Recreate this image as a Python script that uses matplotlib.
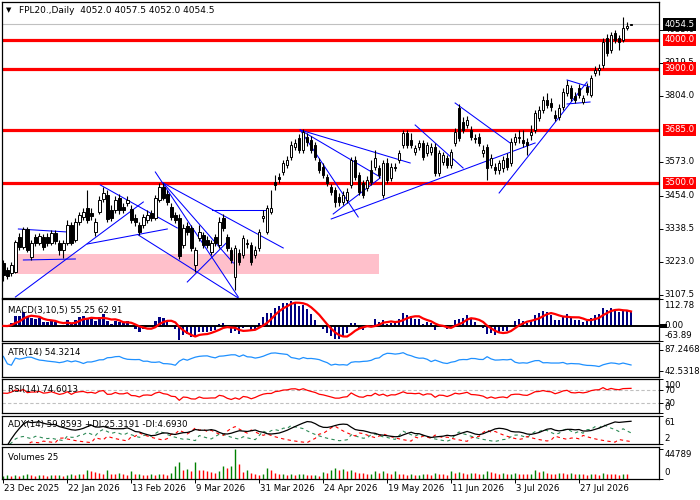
import matplotlib
matplotlib.use('Agg')
import matplotlib.pyplot as plt
import numpy as np
import pandas as pd

# ---------------- data ----------------
opens = [3219.5, 3195, 3184.5, 3188, 3310.5, 3275.5, 3338.5, 3240.5, 3310.5, 3289.5,
         3310.5, 3310.5, 3289.5, 3324.5, 3289.5, 3265, 3289.5, 3352.5, 3300, 3363,
         3380.5, 3412, 3394.5, 3328, 3398, 3443.5, 3457.5, 3405, 3405, 3447,
         3415.5, 3429.5, 3408.5, 3377, 3352.5, 3352.5, 3370, 3394.5, 3377, 3440,
         3485.5, 3461, 3415.5, 3387.5, 3377, 3282.5, 3349, 3342, 3212.5, 3307,
         3317.5, 3300, 3258, 3310.5, 3282.5, 3377, 3310.5, 3265, 3170.5, 3254.5,
         3247.5, 3289.5, 3282.5, 3247.5, 3272, 3377, 3328, 3398, 3503, 3520.5,
         3538, 3562.5, 3590.5, 3625.5, 3657, 3615, 3660.5, 3650, 3632.5, 3573,
         3555.5, 3520.5, 3485.5, 3475, 3450.5, 3433, 3440, 3492.5, 3580, 3527.5,
         3499.5, 3482, 3545, 3555.5, 3552, 3457.5, 3569.5, 3517, 3555.5, 3580,
         3632.5, 3674.5, 3650, 3608, 3625.5, 3639.5, 3604.5, 3608, 3625.5, 3534.5,
         3573, 3587, 3562.5, 3639.5, 3762, 3713, 3702.5, 3685, 3657, 3660.5,
         3604.5, 3625.5, 3562.5, 3555.5, 3545, 3552, 3587, 3569.5, 3643, 3657,
         3650, 3643, 3667.5, 3685, 3727, 3755, 3790, 3779.5, 3737.5, 3730.5,
         3765.5, 3814.5, 3832, 3804, 3832, 3783, 3835.5, 3807.5, 3884.5, 3895,
         3912.5, 4007, 3965, 4024.5, 4007, 4000, 4042, 4052.0]
highs = [3230, 3205.5, 3223, 3300, 3324.5, 3345.5, 3345.5, 3300, 3321, 3324.5,
         3321, 3324.5, 3335, 3335, 3300, 3300, 3370, 3363, 3377, 3398,
         3412, 3475, 3412, 3377, 3454, 3485.5, 3475, 3422.5, 3454, 3461,
         3429.5, 3454, 3422.5, 3391, 3363, 3391, 3405, 3405, 3457.5, 3499.5,
         3499.5, 3475, 3429.5, 3398, 3391, 3356, 3363, 3352.5, 3275.5, 3352.5,
         3328, 3314, 3300, 3321, 3380.5, 3391, 3321, 3275.5, 3282.5, 3268.5,
         3317.5, 3303.5, 3293, 3279, 3338.5, 3405, 3422.5, 3475, 3527.5, 3534.5,
         3580, 3594, 3646.5, 3653.5, 3671, 3688.5, 3674.5, 3664, 3643, 3587,
         3569.5, 3531, 3496, 3485.5, 3464.5, 3471.5, 3482, 3590.5, 3594, 3538,
         3510, 3524, 3580, 3615, 3562.5, 3580, 3587, 3569.5, 3569.5, 3615,
         3685, 3685, 3674.5, 3632.5, 3650, 3650, 3643, 3639.5, 3639.5, 3615,
         3608, 3597.5, 3618.5, 3692, 3776, 3730.5, 3734, 3699, 3671, 3674.5,
         3632.5, 3636, 3601, 3569.5, 3580, 3594, 3604.5, 3657, 3674.5, 3685,
         3685, 3657, 3702.5, 3755, 3769, 3804, 3814.5, 3797, 3755, 3776,
         3832, 3860, 3842.5, 3818, 3846, 3807.5, 3849.5, 3877.5, 3909, 3916,
         4007, 4021, 4028, 4035, 4017.5, 4080.5, 4063, 4057.5]
lows = [3156.5, 3163.5, 3174, 3184.5, 3265, 3268.5, 3258, 3230, 3279, 3282.5,
        3265, 3279, 3282.5, 3286, 3247.5, 3237, 3282.5, 3282.5, 3293, 3352.5,
        3370, 3359.5, 3370, 3314, 3391, 3433, 3363, 3366.5, 3394.5, 3391,
        3394.5, 3419, 3359.5, 3349, 3317.5, 3342, 3359.5, 3366.5, 3370, 3433,
        3440, 3422.5, 3370, 3359.5, 3233.5, 3272, 3317.5, 3261.5, 3188, 3296.5,
        3272, 3272, 3247.5, 3279, 3272, 3331.5, 3261.5, 3219.5, 3125, 3212.5,
        3237, 3272, 3212.5, 3237, 3261.5, 3363, 3321, 3391, 3475, 3499.5,
        3527.5, 3552, 3580, 3615, 3604.5, 3604.5, 3629, 3604.5, 3580, 3534.5,
        3517, 3489, 3457.5, 3415.5, 3419, 3422.5, 3429.5, 3482, 3510, 3457.5,
        3447, 3471.5, 3492.5, 3545, 3517, 3447, 3499.5, 3506.5, 3541.5, 3569.5,
        3622, 3622, 3622, 3597.5, 3615, 3580, 3594, 3597.5, 3524, 3524,
        3562.5, 3552, 3552, 3629, 3646.5, 3674.5, 3692, 3650, 3639.5, 3629,
        3590.5, 3510, 3552, 3531, 3531, 3538, 3545, 3559, 3632.5, 3639.5,
        3625.5, 3597.5, 3650, 3674.5, 3716.5, 3744.5, 3762, 3751.5, 3716.5, 3720,
        3755, 3804, 3786.5, 3779.5, 3797, 3776, 3807.5, 3800.5, 3874, 3877.5,
        3902, 3944, 3954.5, 3989.5, 3965, 3993, 4035, 4052.0]
closes = [3177.5, 3174, 3212.5, 3293, 3275.5, 3338.5, 3265, 3289.5, 3289.5, 3314,
          3275.5, 3289.5, 3324.5, 3296.5, 3265, 3289.5, 3352.5, 3289.5, 3363, 3387.5,
          3398, 3370, 3384, 3363, 3440, 3464.5, 3373.5, 3377, 3440, 3405,
          3405, 3440, 3370, 3363, 3328, 3380.5, 3387.5, 3377, 3447, 3485.5,
          3447, 3433, 3380.5, 3370, 3244, 3342, 3328, 3272, 3265, 3328,
          3282.5, 3282.5, 3289.5, 3289.5, 3363, 3342, 3272, 3230, 3272, 3223,
          3307, 3286, 3223, 3265, 3328, 3384, 3412, 3412, 3492.5, 3513.5,
          3569.5, 3580, 3632.5, 3639.5, 3615, 3678, 3643, 3615, 3590.5, 3545,
          3527.5, 3499.5, 3468, 3433, 3433, 3457.5, 3468, 3580, 3520.5, 3468,
          3457.5, 3510, 3503, 3587, 3527.5, 3569.5, 3510, 3555.5, 3552, 3604.5,
          3674.5, 3632.5, 3632.5, 3622, 3639.5, 3590.5, 3632.5, 3625.5, 3534.5, 3604.5,
          3597.5, 3562.5, 3608, 3678, 3657, 3685, 3720, 3660.5, 3653.5, 3639.5,
          3615, 3552, 3587, 3545, 3569.5, 3580, 3555.5, 3643, 3660.5, 3660.5,
          3639.5, 3632.5, 3678, 3744.5, 3755, 3790, 3772.5, 3765.5, 3727, 3762,
          3818, 3842.5, 3797, 3790, 3807.5, 3797, 3818, 3867, 3895, 3902,
          3993, 3954.5, 4017.5, 4000, 3993, 4042, 4049, 4054.5]
volumes = [5500, 6000, 5000, 6500, 5500, 6000, 7000, 6000, 5500, 6500,
           6000, 5500, 6500, 6000, 6500, 5500, 6000, 7000, 6500, 7500,
           7000, 13500, 12000, 10500, 9000, 8000, 13500, 8000, 7500, 8500,
           7000, 6500, 11500, 7000, 7500, 6500, 6000, 7000, 6500, 7500,
           7000, 6500, 9500, 19000, 25000, 14000, 14500, 12000, 25000, 14000,
           13500, 12500, 11000, 8500, 12000, 19000, 16500, 19500, 44789, 22000,
           11000, 14000, 8500, 7000, 6000, 8000, 16500, 14000, 9000, 7500,
           8000, 6500, 7000, 6500, 7000, 7500, 6500, 6000, 6500, 5500,
           11000, 9000, 14000, 16000, 13000, 15500, 12000, 14000, 10000, 9000,
           8500, 7500, 8000, 12000, 8500, 12500, 9000, 7000, 12000, 8000,
           7000, 6500, 7000, 6000, 6500, 8000, 7000, 6500, 9500, 8000,
           7000, 6500, 12500, 9000, 10000, 9500, 8000, 9000, 8500, 7500,
           8000, 12500, 10000, 9000, 8000, 8500, 7500, 8000, 9500, 8000,
           7500, 7000, 8000, 13000, 10000, 11500, 9000, 8000, 7500, 9000,
           8500, 8000, 9000, 7500, 8000, 7000, 6500, 8000, 7000, 6500,
           9000, 8000, 7500, 7000, 6500, 8000, 7500, 25]

date_labels = ['23 Dec 2025', '22 Jan 2026', '13 Feb 2026', '9 Mar 2026', '31 Mar 2026',
               '24 Apr 2026', '19 May 2026', '11 Jun 2026', '3 Jul 2026', '27 Jul 2026']
date_bars = [0, 16, 32, 48, 64, 80, 96, 112, 128, 144]
levels = [4000.0, 3900.0, 3685.0, 3500.0]
price_ticks = [3107.5, 3223.0, 3338.5, 3454.0, 3573.0, 3804.0, 3919.5, 4035.0]
last_price = 4054.5
zone_bars = [3, 94]
zone_prices = [3181, 3251]
# trend lines: (bar0, price0, bar1, price1)
trendlines = [
    (3.75, 3338.5, 16, 3328), (5, 3230, 18, 3233.5), (3, 3100.5, 35, 3433),
    (21, 3286, 41, 3338.5), (24.25, 3492.5, 43.5, 3342), (38, 3538, 58.75, 3100.5),
    (40, 3499.5, 57.5, 3219.5), (40, 3499.5, 70, 3272), (33.75, 3317.5, 58.75, 3097),
    (46, 3153, 56, 3293), (52.25, 3405, 65.5, 3405), (74.25, 3685, 101.75, 3569.5),
    (74.25, 3685, 94.25, 3520.5), (74.25, 3685, 88.75, 3380.5), (82, 3373.5, 133, 3639.5),
    (82.5, 3391, 94.25, 3517), (103, 3702.5, 115, 3552), (113, 3779.5, 126.75, 3639.5),
    (124, 3464.5, 146, 3853), (141, 3860, 146.75, 3835.5), (141, 3776, 146.75, 3783),
]
# ---------------- indicators ----------------
o = pd.Series(opens, dtype=float); h = pd.Series(highs, dtype=float)
l = pd.Series(lows, dtype=float); c = pd.Series(closes, dtype=float)
n = len(c)
idx = np.arange(n)

macd = c.ewm(span=3, adjust=False).mean() - c.ewm(span=10, adjust=False).mean()
signal = macd.rolling(5, min_periods=1).mean()

pc = c.shift(1)
tr = pd.concat([h - l, (h - pc).abs(), (l - pc).abs()], axis=1).max(axis=1)
atr = tr.rolling(14, min_periods=1).mean()

# RSI(14), Wilder smoothing seeded with the mean of the first 14 changes
d = np.diff(np.array(closes, dtype=float), prepend=closes[0])
g = np.clip(d, 0, None); ls_ = np.clip(-d, 0, None)
ag = g[1:15].mean(); al = ls_[1:15].mean()
rsi = np.zeros(n)
for i in range(n):
    if i > 0:
        ag = (ag * 13 + g[i]) / 14
        al = (al * 13 + ls_[i]) / 14
    rsi[i] = 100 - 100 / (1 + ag / al) if al > 0 else 100

ps = np.zeros(n); ms = np.zeros(n)
for i in range(1, n):
    pdm = max(highs[i] - highs[i-1], 0); mdm = max(lows[i-1] - lows[i], 0)
    if pdm == mdm:
        pdm = mdm = 0
    elif pdm < mdm:
        pdm = 0
    else:
        mdm = 0
    t = max(highs[i] - lows[i], abs(highs[i] - closes[i-1]), abs(lows[i] - closes[i-1]))
    if t > 0:
        ps[i] = 100 * pdm / t; ms[i] = 100 * mdm / t
pdi = pd.Series(ps).ewm(span=14, adjust=False).mean()
mdi = pd.Series(ms).ewm(span=14, adjust=False).mean()
dx = (pdi - mdi).abs() / (pdi + mdi).replace(0, np.nan) * 100
adx = dx.fillna(0).ewm(span=14, adjust=False).mean()

# ---------------- figure ----------------
W, H = 700, 500
plt.rcParams['font.family'] = 'DejaVu Sans'
fig = plt.figure(figsize=(7, 5), dpi=100)
FS = 6.2

def mk(top, bottom):
    ax = fig.add_axes([2 / W, 1 - bottom / H, 657 / W, (bottom - top) / H])
    ax.set_xlim(-0.35, 164)
    ax.set_xticks([])
    ax.tick_params(axis='y', left=False, right=True, labelleft=False, labelright=False,
                   length=3, width=0.7, direction='out')
    for s in ax.spines.values():
        s.set_linewidth(0.9)
    return ax

def rlabel(ax, val, text, va='center', box=None, dy=0, z=5):
    kw = {}
    color = 'black'
    if box is not None:
        kw['bbox'] = dict(boxstyle='square,pad=0.2', fc=box, ec='none')
        color = 'white'
    ax.annotate(text, xy=(1, val), xycoords=('axes fraction', 'data'),
                xytext=(3.8, dy), textcoords='offset points', ha='left', va=va,
                fontsize=FS, color=color, annotation_clip=False, zorder=z, **kw)

def tlabel(ax, text, dy):
    ax.annotate(text, xy=(0, 1), xycoords='axes fraction', xytext=(4, dy),
                textcoords='offset points', ha='left', va='center', fontsize=FS, zorder=10)

# main
ax = mk(1.7, 297.7)
ax.set_ylim(3098, 4134)
ax.add_patch(plt.Rectangle((zone_bars[0], zone_prices[0]), zone_bars[1] - zone_bars[0],
                           zone_prices[1] - zone_prices[0], fc='#FFC0CB', ec='none', zorder=0))
ax.axhline(last_price, color='#C0C0C0', lw=0.8, zorder=1)
for lv in levels:
    ax.axhline(lv, color='red', lw=2.3, zorder=2)
for (b0, p0, b1, p1) in trendlines:
    ax.plot([b0, b1], [p0, p1], color='#0000FF', lw=0.75, zorder=4)
ax.vlines(idx, l, h, colors='black', lw=0.8, zorder=5)
bull = c >= o
bot = np.minimum(o, c); hgt = np.maximum((c - o).abs(), 1.2)
ax.bar(idx[bull], hgt[bull], bottom=bot[bull], width=0.62, color='white',
       edgecolor='black', linewidth=0.7, zorder=6)
ax.bar(idx[~bull], hgt[~bull], bottom=bot[~bull], width=0.62, color='black',
       edgecolor='black', linewidth=0.7, zorder=6)
ax.set_yticks(price_ticks)
for t in price_ticks:
    rlabel(ax, t, f'{t:.1f}', z=3)
for lv in levels:
    rlabel(ax, lv, f'{lv:.1f}', box='red', z=6)
rlabel(ax, last_price, f'{last_price:.1f}', box='black', z=7)
ax.annotate('\u25BC', xy=(0, 1), xycoords='axes fraction', xytext=(3, -6),
            textcoords='offset points', ha='left', va='center', fontsize=5)
ax.annotate('FPL20.,Daily  4052.0 4057.5 4052.0 4054.5', xy=(0, 1), xycoords='axes fraction',
            xytext=(12, -6), textcoords='offset points', ha='left', va='center', fontsize=FS + 0.3)

# MACD
ax1 = mk(299.3, 341)
ax1.set_ylim(-63.89, 112.78)
ax1.bar(idx, macd, width=0.6, color='#000080', zorder=2)
ax1.axhline(0, color='black', lw=1.4, zorder=3)
ax1.plot(idx, signal, color='red', lw=1.6, zorder=4)
ax1.set_yticks([112.78, 0, -63.89])
rlabel(ax1, 112.78, '112.78', va='top', dy=-1.5)
rlabel(ax1, -63.89, '-63.89', va='bottom', dy=1)
ax1.add_patch(plt.Rectangle((1.002, -8), 0.01, 16, transform=ax1.get_yaxis_transform(),
                            fc='black', ec='none', clip_on=False))
rlabel(ax1, 0, '0.00')
tlabel(ax1, 'MACD(3,10,5) 55.25 62.91', -8)

# ATR
ax2 = mk(343.3, 376.7)
ax2.set_ylim(30.4, 101.5)
ax2.plot(idx, atr, color='#1E90FF', lw=0.9)
ax2.set_yticks([87.2468, 42.5318])
rlabel(ax2, 87.2468, '87.2468')
rlabel(ax2, 42.5318, '42.5318')
tlabel(ax2, 'ATR(14) 54.3214', -6.5)

# RSI
ax3 = mk(379.3, 413.3)
ax3.set_ylim(0, 100)
ax3.axhline(70, color='#C0C0C0', lw=0.8, ls=(0, (3, 2)))
ax3.axhline(30, color='#C0C0C0', lw=0.8, ls=(0, (3, 2)))
ax3.plot(idx, rsi, color='red', lw=0.9)
ax3.set_yticks([100, 70, 30, 0])
rlabel(ax3, 100, '100', va='top', dy=-1)
rlabel(ax3, 70, '70', dy=-1)
rlabel(ax3, 30, '30')
rlabel(ax3, 0, '0', va='bottom', dy=1)
tlabel(ax3, 'RSI(14) 74.6013', -7)

# ADX
ax4 = mk(415.7, 444.3)
ax4.set_ylim(2, 61)
ax4.plot(idx, pdi, color='#2E8B57', lw=0.8, ls=(0, (3, 3)))
ax4.plot(idx, mdi, color='red', lw=0.8, ls=(0, (3, 3)))
ax4.plot(idx, adx, color='black', lw=0.9)
ax4.set_yticks([61, 2])
rlabel(ax4, 61, '61', va='top', dy=-1.5)
rlabel(ax4, 2, '2', va='bottom', dy=1)
tlabel(ax4, 'ADX(14) 59.8593 +DI:25.3191 -DI:4.6930', -6)

# Volumes
ax5 = mk(446.7, 479.3)
ax5.set_ylim(0, 44789 * 1.06)
vol = np.array(volumes, dtype=float)
vcol = ['#008000' if (i == 0 or vol[i] > vol[i-1]) else '#FF0000' for i in range(n)]
ax5.vlines(idx, 0, vol, colors=vcol, lw=1.0)
ax5.set_yticks([44789, 0])
rlabel(ax5, 44789, '44789', va='center', dy=-4)
rlabel(ax5, 0, '0', va='bottom', dy=2)
tlabel(ax5, 'Volumes 25', -7.5)
ax5.set_xticks(date_bars)
ax5.tick_params(axis='x', bottom=True, labelbottom=False, length=3, width=0.7, direction='out')
for b, lab in zip(date_bars, date_labels):
    ax5.annotate(lab, xy=(b, 0), xycoords=('data', 'axes fraction'), xytext=(0.5, -6.5),
                 textcoords='offset points', ha='left', va='center', fontsize=FS,
                 annotation_clip=False)

fig.savefig('out.png', dpi=100)
